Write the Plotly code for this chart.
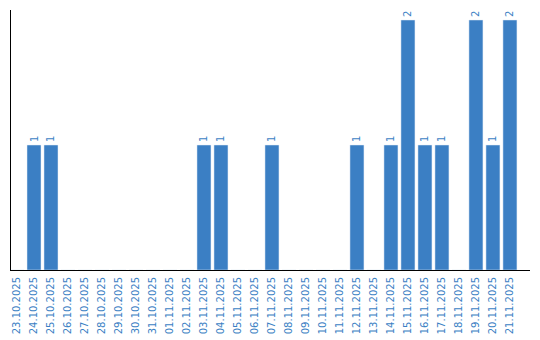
import plotly.graph_objects as go

dates = ["23.10.2025", "24.10.2025", "25.10.2025", "26.10.2025", "27.10.2025", "28.10.2025",
         "29.10.2025", "30.10.2025", "31.10.2025", "01.11.2025", "02.11.2025", "03.11.2025",
         "04.11.2025", "05.11.2025", "06.11.2025", "07.11.2025", "08.11.2025", "09.11.2025",
         "10.11.2025", "11.11.2025", "12.11.2025", "13.11.2025", "14.11.2025", "15.11.2025",
         "16.11.2025", "17.11.2025", "18.11.2025", "19.11.2025", "20.11.2025", "21.11.2025"]
counts = [0, 1, 1, 0, 0, 0, 0, 0, 0, 0, 0, 1, 1, 0, 0, 1, 0, 0, 0, 0, 1, 0, 1, 2, 1, 1, 0, 2, 1, 2]

blue = "#3b7fc4"
labels = [str(v) if v else "" for v in counts]

fig = go.Figure(go.Bar(
    x=dates, y=counts, marker_color=blue, text=labels,
    textposition="outside", textangle=-90, cliponaxis=False,
    textfont=dict(family="DejaVu Sans", size=10, color=blue),
))

fig.update_layout(
    width=540, height=340,
    margin=dict(l=11, r=10, t=10, b=70),
    paper_bgcolor="white", plot_bgcolor="white",
    bargap=0.176, showlegend=False,
    xaxis=dict(type="category", range=[-0.353, 30.18], showline=True, linecolor="black",
               linewidth=1, showgrid=False, ticks="", tickangle=-90, ticklabelstandoff=2,
               automargin=False,
               tickfont=dict(family="DejaVu Sans", size=10, color=blue)),
    yaxis=dict(range=[0, 2.08], showline=True, linecolor="black", linewidth=1,
               showgrid=False, zeroline=False, showticklabels=False, ticks="",
               automargin=False),
)

fig.write_html("out.html")
